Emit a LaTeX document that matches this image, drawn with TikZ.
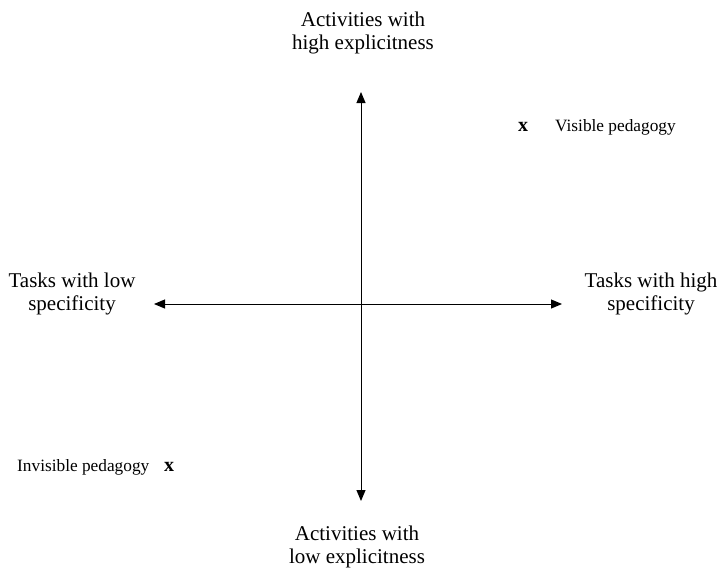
\documentclass[tikz,border=0pt]{standalone}
\usepackage{fontspec}
\setmainfont{Liberation Serif}
\usetikzlibrary{arrows.meta}

\begin{document}
\begin{tikzpicture}[
  x=1pt, y=-1pt,
  >={Triangle[length=11pt,width=9pt]},
  axis/.style={<->, line width=1pt},
  pole/.style={
    align=center,
    inner sep=0pt,
    font=\fontsize{21}{22.5}\selectfont
  },
  tag/.style={
    anchor=west,
    inner sep=0pt,
    font=\fontsize{17.3}{19}\selectfont
  },
  cross/.style={
    inner sep=0pt,
    font=\fontsize{20}{22}\selectfont\bfseries
  }
]
\useasboundingbox (0,0) rectangle (718,568);

% axes
\coordinate (top) at (361,92);
\coordinate (bottom) at (361,501);
\coordinate (left) at (154,304);
\coordinate (right) at (562,304);
\draw[axis] (bottom) -- (top);
\draw[axis] (left) -- (right);

% pole labels
\node[pole] (high) at (363,33) {Activities with\\high explicitness};
\node[pole] (low) at (357,547) {Activities with\\low explicitness};
\node[pole] (lowspec) at (72,294) {Tasks with low\\specificity};
\node[pole] (highspec) at (651,294) {Tasks with high\\specificity};

% positions
\node[cross] (vis) at (523,127) {x};
\node[tag] (vislabel) at (555,127) {Visible pedagogy};
\node[tag] (invlabel) at (17,467) {Invisible pedagogy};
\node[cross] (inv) at (169,467) {x};

\end{tikzpicture}
\end{document}
